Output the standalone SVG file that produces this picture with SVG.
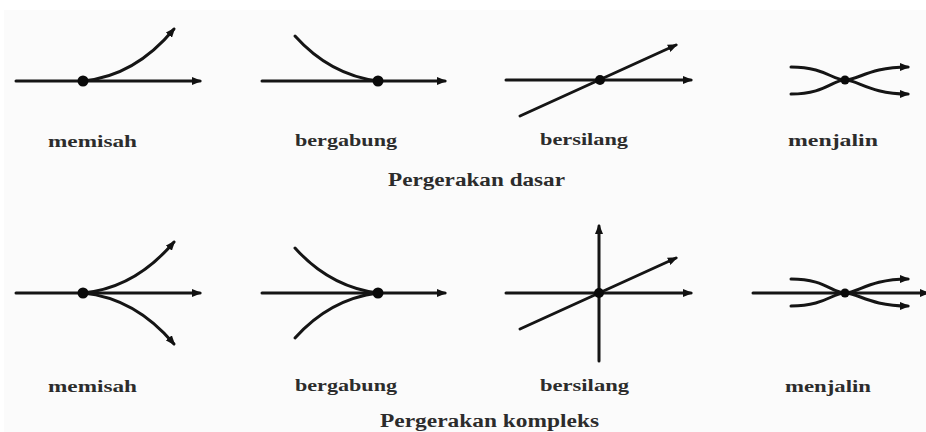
<svg xmlns="http://www.w3.org/2000/svg" width="926" height="432" viewBox="0 0 926 432">
<defs>
<marker id="ah" viewBox="0 0 10 8" refX="8" refY="4" markerWidth="10" markerHeight="8" markerUnits="userSpaceOnUse" orient="auto">
<path d="M0,0 L10,4 L0,8 z" fill="#111"/>
</marker>
<style>
.ln{fill:none;stroke:#151515;stroke-width:3;stroke-linecap:round}
.ar{marker-end:url(#ah)}
.dot{fill:#0a0a0a}
.lb{font-family:"Liberation Serif","DejaVu Serif",serif;font-weight:bold;font-size:17px;fill:#2c2c2c;text-anchor:middle}
.cap{font-size:18px}
</style>
</defs>
<rect x="0" y="0" width="926" height="432" fill="#ffffff"/>
<rect x="4" y="10" width="922" height="422" fill="#fbfbfb"/>

<g id="connectors">
<!-- top row -->
<path class="ln ar" d="M16,81 L200,81"/>
<path class="ln ar" d="M83,81 Q135,76 174,29"/>
<path class="ln ar" d="M262,81 L445,81"/>
<path class="ln" d="M295,36 Q330,75 378,81"/>
<path class="ln ar" d="M506,80 L691,80"/>
<path class="ln ar" d="M520,116 L676,45"/>
<path class="ln ar" d="M791,67 C825,67 832,80 845,80 S870,67 908,67"/>
<path class="ln ar" d="M791,94 C825,94 832,80 845,80 S870,94 908,94"/>
<!-- bottom row -->
<path class="ln ar" d="M16,293 L200,293"/>
<path class="ln ar" d="M83,293 Q135,288 174,242"/>
<path class="ln ar" d="M83,293 Q135,298 174,344"/>
<path class="ln ar" d="M262,293 L445,293"/>
<path class="ln" d="M295,248 Q330,287 378,293"/>
<path class="ln" d="M295,338 Q330,299 378,293"/>
<path class="ln ar" d="M506,293 L691,293"/>
<path class="ln ar" d="M599,361 L599,226"/>
<path class="ln ar" d="M520,329 L676,258"/>
<path class="ln ar" d="M753,293 L928,293"/>
<path class="ln ar" d="M791,279 C825,279 832,293 845,293 S870,279 908,279"/>
<path class="ln ar" d="M791,306 C825,306 832,293 845,293 S870,306 908,306"/>
</g>

<g id="dasar-memisah">
<circle class="dot" cx="83" cy="81" r="5.5"/>
<text class="lb" x="92.5" y="147" textLength="89" lengthAdjust="spacingAndGlyphs">memisah</text>
</g>
<g id="dasar-bergabung">
<circle class="dot" cx="378" cy="81" r="5.5"/>
<text class="lb" x="346" y="146" textLength="102" lengthAdjust="spacingAndGlyphs">bergabung</text>
</g>
<g id="dasar-bersilang">
<circle class="dot" cx="600" cy="80" r="5"/>
<text class="lb" x="584" y="145" textLength="88" lengthAdjust="spacingAndGlyphs">bersilang</text>
</g>
<g id="dasar-menjalin">
<circle class="dot" cx="845" cy="80" r="4.5"/>
<text class="lb" x="833" y="146" textLength="90" lengthAdjust="spacingAndGlyphs">menjalin</text>
</g>
<g id="caption-dasar">
<text class="lb cap" x="476.5" y="186" textLength="177" lengthAdjust="spacingAndGlyphs">Pergerakan dasar</text>
</g>

<g id="kompleks-memisah">
<circle class="dot" cx="83" cy="293" r="5.5"/>
<text class="lb" x="92.5" y="392" textLength="89" lengthAdjust="spacingAndGlyphs">memisah</text>
</g>
<g id="kompleks-bergabung">
<circle class="dot" cx="378" cy="293" r="5.5"/>
<text class="lb" x="346" y="391" textLength="102" lengthAdjust="spacingAndGlyphs">bergabung</text>
</g>
<g id="kompleks-bersilang">
<circle class="dot" cx="599" cy="293" r="5"/>
<text class="lb" x="584.5" y="391" textLength="89" lengthAdjust="spacingAndGlyphs">bersilang</text>
</g>
<g id="kompleks-menjalin">
<circle class="dot" cx="845" cy="293" r="4.5"/>
<text class="lb" x="828" y="392" textLength="86" lengthAdjust="spacingAndGlyphs">menjalin</text>
</g>
<g id="caption-kompleks">
<text class="lb cap" x="489.5" y="427" textLength="219" lengthAdjust="spacingAndGlyphs">Pergerakan kompleks</text>
</g>
</svg>
